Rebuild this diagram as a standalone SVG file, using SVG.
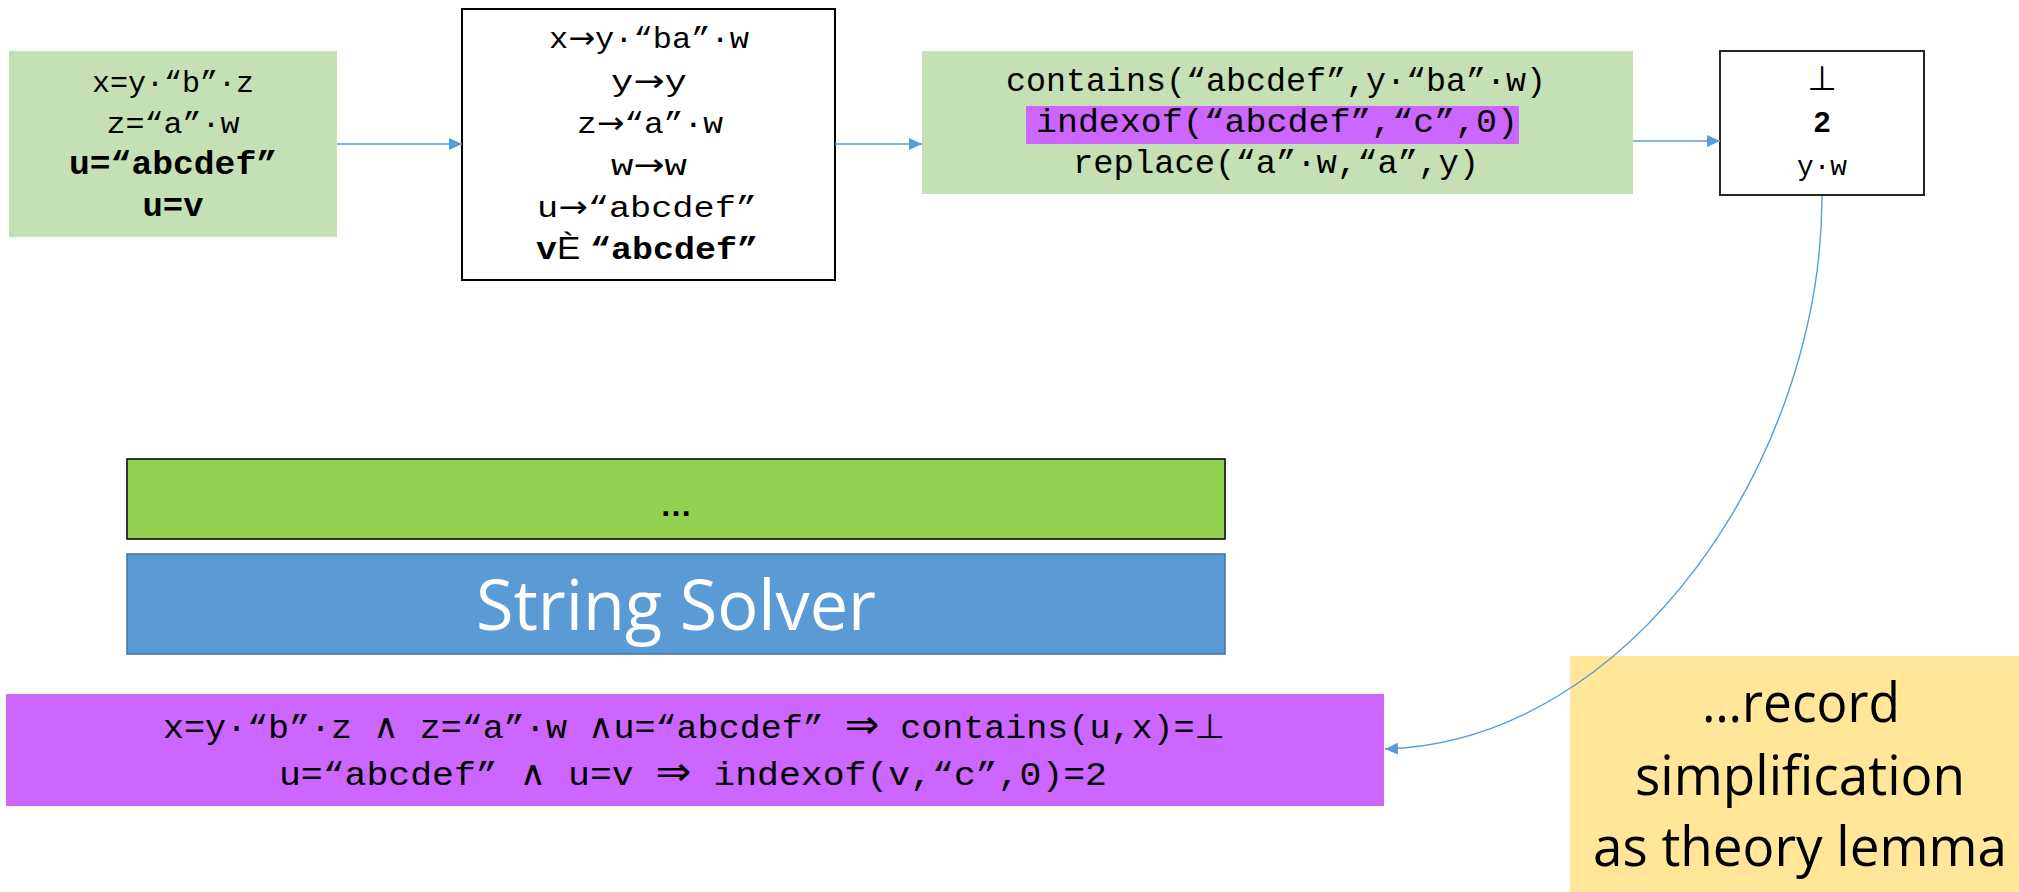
<svg xmlns="http://www.w3.org/2000/svg" width="2019" height="892" viewBox="0 0 2019 892">
<defs>
<style>
.mono{font-family:"Liberation Mono","DejaVu Sans Mono",monospace;fill:#000;text-anchor:middle}
.b{font-weight:bold}
.sym{font-family:"DejaVu Sans","Liberation Sans",sans-serif;font-weight:normal}
.big{font-size:40px}
.sans{font-family:"Open Sans","Liberation Sans",sans-serif;text-anchor:middle}
.conn{fill:none;stroke:#5B9BD5;stroke-width:1.4}
</style>
<marker id="ah" markerUnits="userSpaceOnUse" markerWidth="14" markerHeight="13" refX="13" refY="6" orient="auto">
<path d="M0,0 L13,6 L0,12 Z" fill="#5B9BD5"/>
</marker>
</defs>
<rect width="2019" height="892" fill="#fff"/>

<g id="constraints">
<rect x="9" y="51" width="328" height="186" fill="#C5E0B4"/>
<text class="mono" x="173" y="92" font-size="30" textLength="162" lengthAdjust="spacingAndGlyphs">x=y·“b”·z</text>
<text class="mono" x="173" y="133" font-size="30" textLength="133" lengthAdjust="spacingAndGlyphs">z=“a”·w</text>
<text class="mono b" x="173" y="174" font-size="34" textLength="208" lengthAdjust="spacingAndGlyphs">u=“abcdef”</text>
<text class="mono b" x="173" y="216" font-size="34" textLength="61" lengthAdjust="spacingAndGlyphs">u=v</text>
</g>

<g id="substitution">
<rect x="462" y="9" width="373" height="271" fill="#fff" stroke="#000" stroke-width="2"/>
<text class="mono" x="649" y="48" font-size="30" textLength="200" lengthAdjust="spacingAndGlyphs">x<tspan class="sym">→</tspan>y·“ba”·w</text>
<text class="mono" x="649" y="91" font-size="30" textLength="76" lengthAdjust="spacingAndGlyphs">y<tspan class="sym">→</tspan>y</text>
<text class="mono" x="650" y="133" font-size="30" textLength="146" lengthAdjust="spacingAndGlyphs">z<tspan class="sym">→</tspan>“a”·w</text>
<text class="mono" x="649" y="175" font-size="30" textLength="76" lengthAdjust="spacingAndGlyphs">w<tspan class="sym">→</tspan>w</text>
<text class="mono" x="647" y="217" font-size="30" textLength="220" lengthAdjust="spacingAndGlyphs">u<tspan class="sym">→</tspan>“abcdef”</text>
<text class="mono b" x="647" y="259" font-size="32" textLength="222" lengthAdjust="spacingAndGlyphs">v<tspan font-weight="normal" font-family="Liberation Sans, sans-serif">È </tspan>“abcdef”</text>
</g>

<g id="terms">
<rect x="922" y="51" width="711" height="143" fill="#C5E0B4"/>
<rect x="1026" y="106" width="493" height="38" fill="#CC66FF"/>
<text class="mono" x="1276" y="91" font-size="33" textLength="540" lengthAdjust="spacingAndGlyphs">contains(“abcdef”,y·“ba”·w)</text>
<text class="mono" x="1277" y="132" font-size="33" textLength="482" lengthAdjust="spacingAndGlyphs">indexof(“abcdef”,“c”,0)</text>
<text class="mono" x="1276" y="173" font-size="33" textLength="406" lengthAdjust="spacingAndGlyphs">replace(“a”·w,“a”,y)</text>
</g>

<g id="results">
<rect x="1720" y="51" width="204" height="144" fill="#fff" stroke="#262626" stroke-width="2"/>
<text class="mono" x="1822" y="90" font-size="34"><tspan class="sym">⊥</tspan></text>
<text x="1822" y="132" font-size="30" font-weight="bold" font-family="Liberation Sans, Arial, sans-serif" text-anchor="middle">2</text>
<text class="mono" x="1822" y="175" font-size="28" textLength="50" lengthAdjust="spacingAndGlyphs">y·w</text>
</g>

<g id="layer">
<rect x="127" y="459" width="1098" height="80" fill="#92D050" stroke="#000" stroke-width="1.5"/>
<text x="676" y="516" font-size="32" font-weight="bold" font-family="Liberation Sans, sans-serif" text-anchor="middle">…</text>
</g>

<g id="solver">
<rect x="127" y="554" width="1098" height="100" fill="#5B9BD5" stroke="#41719C" stroke-width="1.5"/>
<text class="sans" x="676" y="630" font-size="70" fill="#fff" textLength="400" lengthAdjust="spacingAndGlyphs">String Solver</text>
</g>

<g id="lemmas">
<rect x="6" y="694" width="1378" height="112" fill="#CC66FF"/>
<text class="mono" x="694" y="738" font-size="34" textLength="1062" lengthAdjust="spacingAndGlyphs">x=y·“b”·z <tspan class="sym">∧</tspan> z=“a”·w <tspan class="sym">∧</tspan>u=“abcdef” <tspan class="sym big">⇒</tspan> contains(u,x)=<tspan class="sym">⊥</tspan></text>
<text class="mono" x="693" y="785" font-size="34" textLength="828" lengthAdjust="spacingAndGlyphs">u=“abcdef” <tspan class="sym">∧</tspan> u=v <tspan class="sym big">⇒</tspan> indexof(v,“c”,0)=2</text>
</g>

<g id="note">
<rect x="1570" y="656" width="449" height="236" fill="#FFE699"/>
<text class="sans" x="1801" y="722" font-size="54" fill="#000" textLength="198" lengthAdjust="spacingAndGlyphs">…record</text>
<text class="sans" x="1800" y="795" font-size="54" fill="#000" textLength="330" lengthAdjust="spacingAndGlyphs">simplification</text>
<text class="sans" x="1800" y="866" font-size="54" fill="#000" textLength="414" lengthAdjust="spacingAndGlyphs">as theory lemma</text>
</g>

<g id="connectors">
<line class="conn" x1="337" y1="144" x2="462" y2="144" marker-end="url(#ah)"/>
<line class="conn" x1="835" y1="144" x2="922" y2="144" marker-end="url(#ah)"/>
<line class="conn" x1="1633" y1="141" x2="1720" y2="141" marker-end="url(#ah)"/>
<path class="conn" d="M1822,196 C1822,460 1630,742 1385,749" marker-end="url(#ah)"/>
</g>
</svg>
